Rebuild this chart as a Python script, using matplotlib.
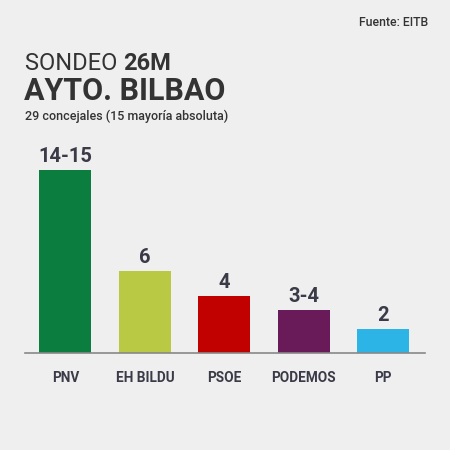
import matplotlib
matplotlib.use("Agg")
import matplotlib.pyplot as plt

# data
partidos = ["PNV", "EH BILDU", "PSOE", "PODEMOS", "PP"]
etiquetas = ["14-15", "6", "4", "3-4", "2"]
escanos = [14.5, 6.5, 4.5, 3.4, 1.9]   # bar heights as drawn
colores = ["#0b7d3f", "#b9c943", "#c10000", "#691a58", "#2cb4e6"]

plt.rcParams["font.family"] = ["Roboto", "DejaVu Sans"]
fondo = "#efefef"
texto = "#333333"

fig = plt.figure(figsize=(4.5, 4.5), dpi=100, facecolor=fondo)
ax = fig.add_axes([25 / 450, 97.3 / 450, 400 / 450, 202.7 / 450])
ax.set_facecolor(fondo)

x = range(len(partidos))
ax.bar(x, escanos, width=0.655, color=colores, zorder=2)
for i, (h, lab) in enumerate(zip(escanos, etiquetas)):
    ax.text(i, h + 0.3, lab, ha="center", va="bottom", fontsize=14.5,
            fontweight="bold", color="#3a3a48")

ax.set_xlim(-0.51, 4.53)
ax.set_ylim(0, 16.09)
ax.set_xticks(list(x))
ax.set_xticklabels(partidos, fontsize=9.8, fontweight="bold", color="#3a3a48")
ax.tick_params(axis="x", length=0, pad=13)
ax.set_yticks([])
for s in ["top", "right", "left"]:
    ax.spines[s].set_visible(False)
ax.spines["bottom"].set_color("#888888")
ax.spines["bottom"].set_linewidth(1.2)

# header
fig.text(428 / 450, 1 - 22 / 450, "Fuente: EITB", ha="right", va="center",
         fontsize=8.8, fontweight="medium", color=texto)
t1 = fig.text(25 / 450, 1 - 63 / 450, "SONDEO ", ha="left", va="center",
              fontsize=17, fontweight="normal", color=texto)
fig.canvas.draw()
bb = t1.get_window_extent()
fig.text(bb.x1 / 450, 1 - 63 / 450, "26M", ha="left", va="center",
         fontsize=17, fontweight="bold", color=texto)
fig.text(24 / 450, 1 - 91 / 450, "AYTO. BILBAO", ha="left", va="center",
         fontsize=22, fontweight="bold", color=texto)
fig.text(25 / 450, 1 - 116 / 450, "29 concejales (15 mayoría absoluta)",
         ha="left", va="center", fontsize=9, fontweight="medium", color=texto)

fig.savefig("out.png", dpi=100, facecolor=fondo)
